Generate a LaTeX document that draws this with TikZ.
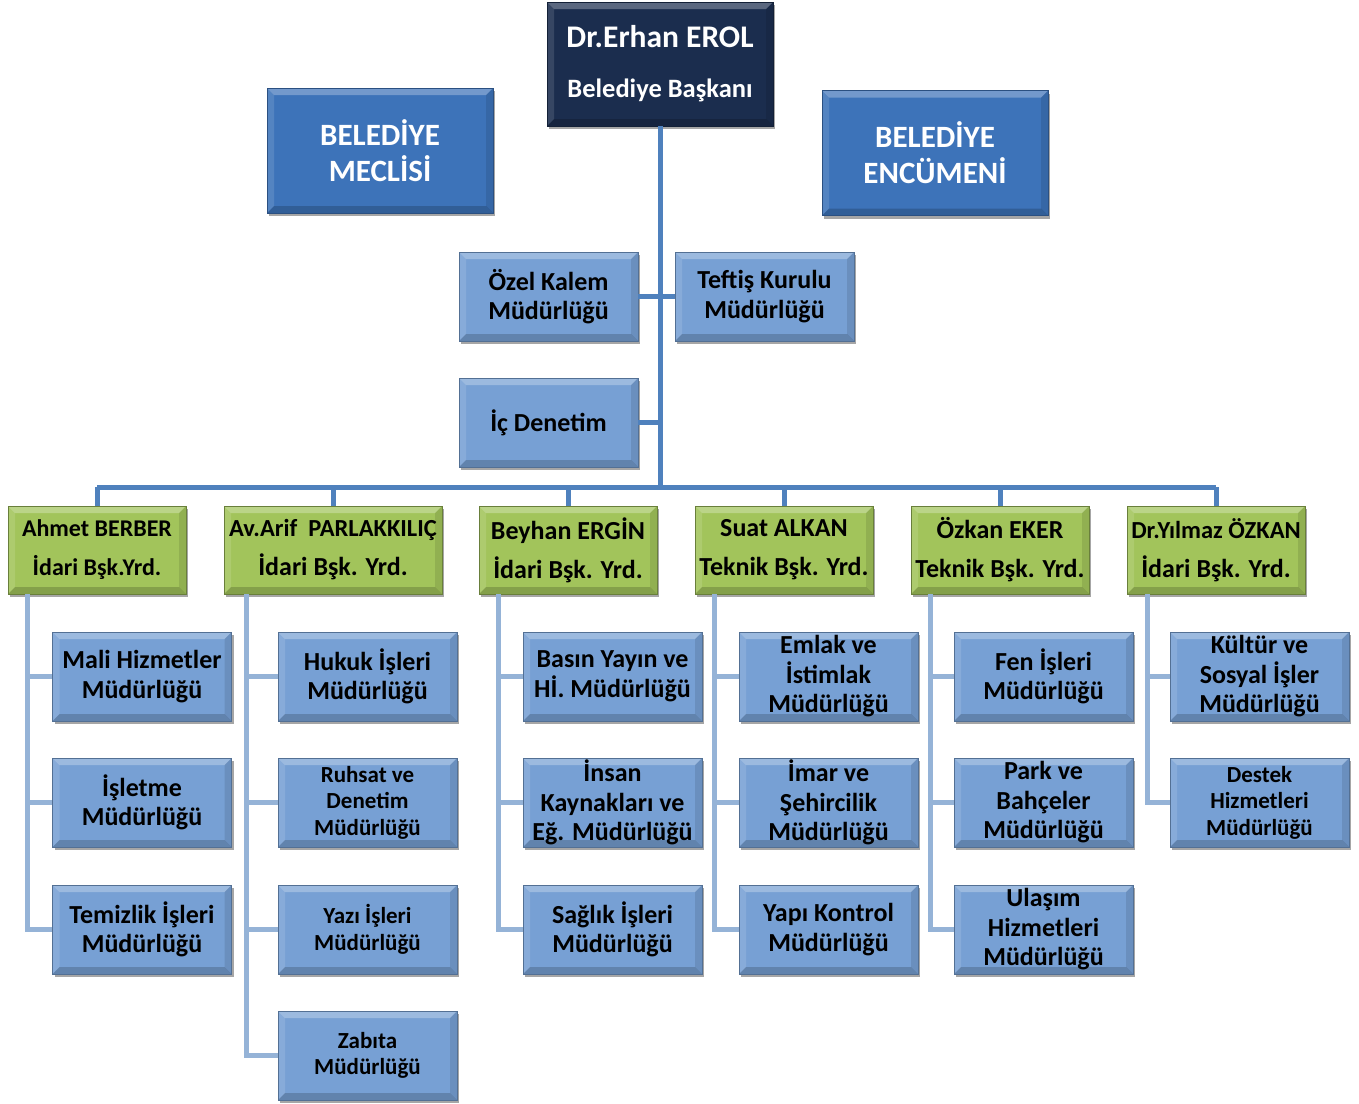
\documentclass[tikz,border=0pt]{standalone}
\usepackage{fontspec}
\setmainfont{Carlito}
\usetikzlibrary{shadows}
\definecolor{navy}{HTML}{1B2D4E}
\definecolor{medblue}{HTML}{3D73B9}
\definecolor{lblue}{HTML}{77A0D4}
\definecolor{lgreen}{HTML}{A2C45B}
\definecolor{trunkc}{HTML}{4F81BD}
\definecolor{subc}{HTML}{95B3D7}
\tikzset{
  bev/.style={path picture={
    \fill[white,opacity=0.28] (path picture bounding box.north west) -- (path picture bounding box.north east) -- ([xshift=-7pt,yshift=-7pt]path picture bounding box.north east) -- ([xshift=7pt,yshift=-7pt]path picture bounding box.north west) -- cycle;
    \fill[white,opacity=0.12] (path picture bounding box.north west) -- (path picture bounding box.south west) -- ([xshift=7pt,yshift=7pt]path picture bounding box.south west) -- ([xshift=7pt,yshift=-7pt]path picture bounding box.north west) -- cycle;
    \fill[black,opacity=0.18] (path picture bounding box.south west) -- (path picture bounding box.south east) -- ([xshift=-7pt,yshift=7pt]path picture bounding box.south east) -- ([xshift=7pt,yshift=7pt]path picture bounding box.south west) -- cycle;
    \fill[black,opacity=0.10] (path picture bounding box.north east) -- (path picture bounding box.south east) -- ([xshift=-7pt,yshift=7pt]path picture bounding box.south east) -- ([xshift=-7pt,yshift=-7pt]path picture bounding box.north east) -- cycle;
  }},
  basebox/.style={rectangle, inner sep=0pt, align=center, bev,
    drop shadow={shadow xshift=2pt, shadow yshift=-3pt, opacity=0.35, fill=black}},
  navybox/.style={basebox, fill=navy, draw=navy!70!black, line width=0.8pt, text=white,
    minimum width=226pt, minimum height=124pt, font=\bfseries\fontsize{26.5}{50}\selectfont},
  topbox/.style={basebox, fill=medblue, draw=medblue!70!black, line width=0.8pt, text=white,
    minimum width=226pt, minimum height=125pt, font=\bfseries\fontsize{31}{36}\selectfont},
  unit/.style={basebox, fill=lblue, draw=lblue!70!black, line width=0.8pt, text=black,
    minimum width=179pt, minimum height=89pt, font=\bfseries\fontsize{26}{29.5}\selectfont},
  smallunit/.style={unit, font=\bfseries\fontsize{23}{26.5}\selectfont},
  deputy/.style={basebox, fill=lgreen, draw=lgreen!65!black, line width=0.8pt, text=black,
    minimum width=178pt, minimum height=88pt, font=\bfseries\fontsize{26}{39}\selectfont},
  trunk/.style={draw=trunkc, line width=5pt},
  sub/.style={draw=subc, line width=5pt}
}
\begin{document}
\begin{tikzpicture}[x=1pt,y=-1pt]
\useasboundingbox (0,0) rectangle (1359,1103);
\coordinate (jn) at (660,487);
\coordinate (b1) at (97,487);
\coordinate (b2) at (333,487);
\coordinate (b3) at (568,487);
\coordinate (b4) at (784,487);
\coordinate (b5) at (1000,487);
\coordinate (b6) at (1216,487);
\coordinate (v1) at (27,594);
\coordinate (v2) at (246,594);
\coordinate (v3) at (498,594);
\coordinate (v4) at (714,594);
\coordinate (v5) at (930,594);
\coordinate (v6) at (1147,594);

% top level
\node[navybox] (pres) at (660,64) {{\fontsize{31.5}{50}\selectfont Dr.Erhan EROL}\\Belediye Başkanı};
\node[topbox] (meclis) at (380,150.5) {BELEDİYE\\MECLİSİ};
\node[topbox] (encumen) at (935,153) {BELEDİYE\\ENCÜMENİ};

\node[unit] (ozel) at (548.5,296.5) {Özel Kalem\\Müdürlüğü};
\node[unit] (teftis) at (764.5,296.5) {Teftiş Kurulu\\Müdürlüğü};
\node[unit] (ic) at (548.5,422.5) {İç Denetim};

% deputies
\node[deputy, font=\bfseries\fontsize{24}{39}\selectfont] (g1) at (97,550) {Ahmet BERBER\\İdari Bşk.Yrd.};
\node[deputy, minimum width=218pt, font=\bfseries\fontsize{24.5}{39}\selectfont] (g2) at (333,550) {Av.Arif\ \ PARLAKKILIÇ\\{\fontsize{26}{39}\selectfont İdari Bşk. Yrd.}};
\node[deputy] (g3) at (568,550) {Beyhan ERGİN\\İdari Bşk. Yrd.};
\node[deputy] (g4) at (784,550) {Suat ALKAN\\Teknik Bşk. Yrd.};
\node[deputy] (g5) at (1000,550) {Özkan EKER\\Teknik Bşk. Yrd.};
\node[deputy, font=\bfseries\fontsize{24.5}{39}\selectfont] (g6) at (1216,550) {Dr.Yılmaz ÖZKAN\\{\fontsize{26}{39}\selectfont İdari Bşk. Yrd.}};

% column 1
\node[unit] (m11) at (142,676.5) {Mali Hizmetler\\Müdürlüğü};
\node[unit] (m12) at (142,802.5) {İşletme\\Müdürlüğü};
\node[unit] (m13) at (142,929.5) {Temizlik İşleri\\Müdürlüğü};
% column 2
\node[unit] (m21) at (367.5,676.5) {Hukuk İşleri\\Müdürlüğü};
\node[smallunit] (m22) at (367.5,802.5) {Ruhsat ve\\Denetim\\Müdürlüğü};
\node[smallunit] (m23) at (367.5,929.5) {Yazı İşleri\\Müdürlüğü};
\node[smallunit] (m24) at (367.5,1055.5) {Zabıta\\Müdürlüğü};
% column 3
\node[unit] (m31) at (612.5,676.5) {Basın Yayın ve\\Hİ. Müdürlüğü};
\node[unit] (m32) at (612.5,802.5) {İnsan\\Kaynakları ve\\Eğ. Müdürlüğü};
\node[unit] (m33) at (612.5,929.5) {Sağlık İşleri\\Müdürlüğü};
% column 4
\node[unit] (m41) at (828.5,676.5) {Emlak ve\\İstimlak\\Müdürlüğü};
\node[unit] (m42) at (828.5,802.5) {İmar ve\\Şehircilik\\Müdürlüğü};
\node[unit] (m43) at (828.5,929.5) {Yapı Kontrol\\Müdürlüğü};
% column 5
\node[unit] (m51) at (1043.5,676.5) {Fen İşleri\\Müdürlüğü};
\node[unit] (m52) at (1043.5,802.5) {Park ve\\Bahçeler\\Müdürlüğü};
\node[unit] (m53) at (1043.5,929.5) {Ulaşım\\Hizmetleri\\Müdürlüğü};
% column 6
\node[unit] (m61) at (1259.5,676.5) {Kültür ve\\Sosyal İşler\\Müdürlüğü};
\node[smallunit] (m62) at (1259.5,802.5) {Destek\\Hizmetleri\\Müdürlüğü};

% connectors
\draw[trunk] (pres.south) -- (jn);
\draw[trunk] (ozel.east) -- (teftis.west);
\draw[trunk] (ic.east) -- (ic.east -| jn);
\draw[trunk] (b1) -- (b6);
\foreach \i in {1,...,6} { \draw[trunk] (b\i) -- (g\i.north); }

\draw[sub] (v1) |- (m13.west);
\draw[sub] (m11.west -| v1) -- (m11.west);
\draw[sub] (m12.west -| v1) -- (m12.west);

\draw[sub] (v2) |- (m24.west);
\draw[sub] (m21.west -| v2) -- (m21.west);
\draw[sub] (m22.west -| v2) -- (m22.west);
\draw[sub] (m23.west -| v2) -- (m23.west);

\draw[sub] (v3) |- (m33.west);
\draw[sub] (m31.west -| v3) -- (m31.west);
\draw[sub] (m32.west -| v3) -- (m32.west);

\draw[sub] (v4) |- (m43.west);
\draw[sub] (m41.west -| v4) -- (m41.west);
\draw[sub] (m42.west -| v4) -- (m42.west);

\draw[sub] (v5) |- (m53.west);
\draw[sub] (m51.west -| v5) -- (m51.west);
\draw[sub] (m52.west -| v5) -- (m52.west);

\draw[sub] (v6) |- (m62.west);
\draw[sub] (m61.west -| v6) -- (m61.west);
\end{tikzpicture}
\end{document}
